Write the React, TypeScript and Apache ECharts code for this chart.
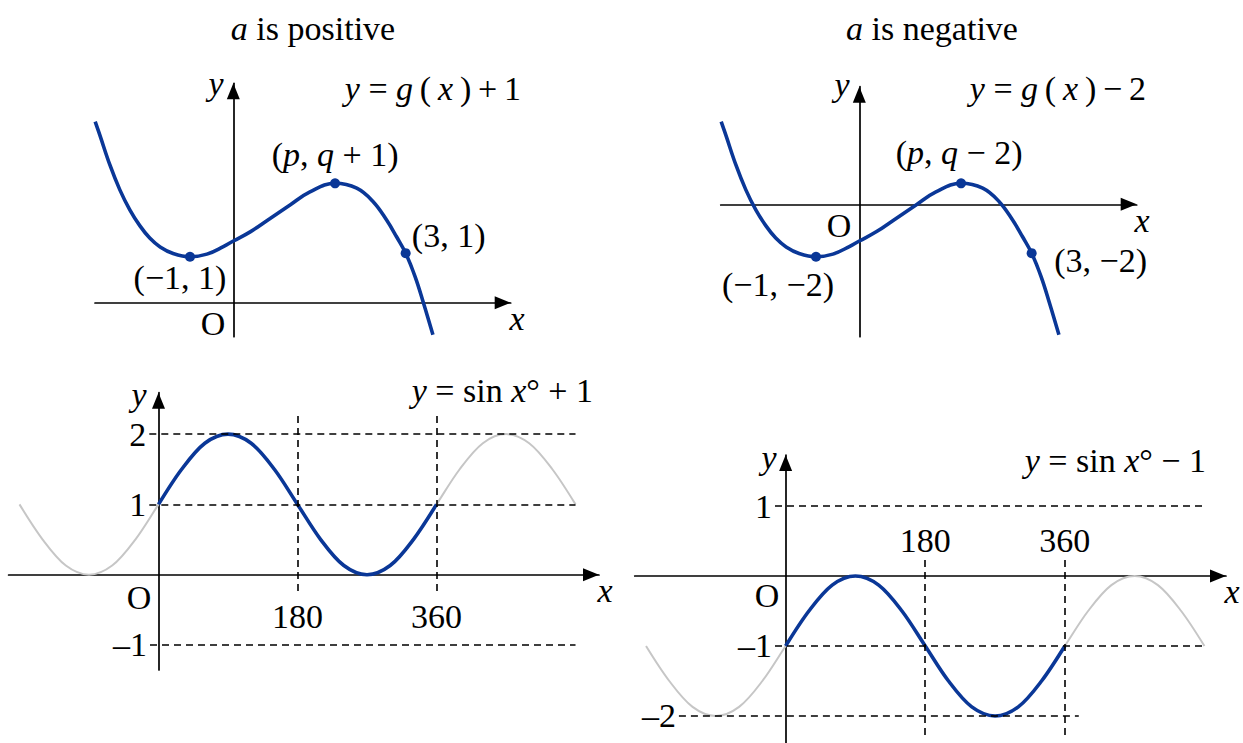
import React, { useEffect, useRef } from 'react';
import * as echarts from 'echarts';

const FONT = "'Liberation Serif', 'Times New Roman', serif";
const FS = 34;
const BLUE = '#0a3797';
const GREY = '#c6c6c6';
const BLACK = '#000';

// Underlying cubic g(x) (x in units of the marked minimum, y in picture units)
const gX = [-3.19, -3.08, -2.85, -2.62, -2.39, -2.16, -1.93, -1.69, -1.39, -1.0, -0.61, -0.23, 0, 0.39, 0.85, 1.31, 1.77, 2.35, 2.85, 3.23, 3.54, 3.77, 3.98, 4.2, 4.39, 4.61];
const gY = [4.52, 4.1, 3.2, 2.44, 1.83, 1.35, 0.97, 0.7, 0.5, 0.4, 0.48, 0.71, 0.88, 1.16, 1.57, 1.98, 2.38, 2.64, 2.49, 2.08, 1.52, 1.01, 0.51, -0.21, -1.0, -1.98];
const markedIdx = [9, 17, 22];
const shiftPositive = 1;
const shiftNegative = -2;
const labelsPositive = ['(−1, 1)', '({i|p}, {i|q} + 1)', '(3, 1)'];
const labelsNegative = ['(−1, −2)', '({i|p}, {i|q} − 2)', '(3, −2)'];
const labelOffsetsPositive = [[-10, 21], [0, -29], [43, -18]];
const labelOffsetsNegative = [[-38, 28], [-2, -31], [69, 7]];

// sin x° sampled every 30°
const sinX = [-180, -150, -120, -90, -60, -30, 0, 30, 60, 90, 120, 150, 180, 210, 240, 270, 300, 330, 360, 390, 420, 450, 480, 510, 540];
const sinVal = [0, -0.5, -0.87, -1, -0.87, -0.5, 0, 0.5, 0.87, 1, 0.87, 0.5, 0, -0.5, -0.87, -1, -0.87, -0.5, 0, 0.5, 0.87, 1, 0.87, 0.5, 0];
const blueFrom = 0;
const blueTo = 360;
const xTicks = [180, 360];

const richStyles = (size: number) => ({
  i: { fontFamily: FONT, fontSize: size, fontStyle: 'italic', color: BLACK },
});

function text(x: number, y: number, t: string, align = 'center', size = FS) {
  return {
    type: 'text',
    x,
    y,
    silent: true,
    style: {
      text: t,
      fontFamily: FONT,
      fontSize: size,
      fill: BLACK,
      align,
      verticalAlign: 'middle',
      rich: richStyles(size),
    },
  };
}

function axis(gridIndex: number, min: number, max: number) {
  return {
    type: 'value',
    gridIndex,
    min,
    max,
    axisLine: {
      show: true,
      onZero: true,
      symbol: ['none', 'triangle'],
      symbolSize: [13, 16],
      symbolOffset: [0, -8],
      lineStyle: { color: BLACK, width: 1.7 },
    },
    axisTick: { show: false },
    axisLabel: { show: false },
    splitLine: { show: false },
  };
}

function hLine(y: number, x1: number, x2: number, label: string) {
  return [
    { coord: [x1, y], label: { formatter: label, position: 'start', distance: 3 } },
    { coord: [x2, y] },
  ];
}
function vLine(x: number, yStart: number, yEnd: number, label: string, dist: number) {
  return [
    { coord: [x, yStart], label: { formatter: label, position: 'end', distance: dist } },
    { coord: [x, yEnd] },
  ];
}

const markLineBase = {
  silent: true,
  symbol: ['none', 'none'],
  animation: false,
  lineStyle: { type: [7, 5], color: BLACK, width: 1.6, opacity: 1 },
  label: { show: true, color: BLACK, fontFamily: FONT, fontSize: FS },
  emphasis: { disabled: true },
};

function cubicSeries(idx: number, shift: number, labels: string[], offsets: number[][]) {
  const pts = gX.map((x, i) => [x, gY[i] + shift]);
  return [
    {
      type: 'line',
      xAxisIndex: idx,
      yAxisIndex: idx,
      data: pts,
      smooth: 0.4,
      showSymbol: false,
      lineStyle: { color: BLUE, width: 3.6 },
      z: 3,
    },
    {
      type: 'scatter',
      xAxisIndex: idx,
      yAxisIndex: idx,
      symbolSize: 10,
      itemStyle: { color: BLUE, opacity: 1 },
      z: 4,
      data: markedIdx.map((k, j) => ({
        value: pts[k],
        label: { formatter: labels[j], offset: offsets[j] },
      })),
      label: {
        show: true,
        position: 'inside',
        align: 'center',
        verticalAlign: 'middle',
        color: BLACK,
        opacity: 1,
        fontFamily: FONT,
        fontSize: FS,
        rich: richStyles(FS),
      },
      emphasis: { disabled: true },
    },
  ];
}

function sineSeries(idx: number, shift: number, marks: any[]) {
  const all = sinX.map((x, i) => [x, sinVal[i] + shift]);
  const blue = all.filter((p) => p[0] >= blueFrom && p[0] <= blueTo);
  return [
    {
      type: 'line',
      xAxisIndex: idx,
      yAxisIndex: idx,
      data: all,
      smooth: 0.33,
      showSymbol: false,
      lineStyle: { color: GREY, width: 2 },
      z: 2,
      markLine: { ...markLineBase, data: marks },
    },
    {
      type: 'line',
      xAxisIndex: idx,
      yAxisIndex: idx,
      data: blue,
      smooth: 0.33,
      showSymbol: false,
      lineStyle: { color: BLUE, width: 3.6 },
      z: 3,
    },
  ];
}

export default function App() {
  const ref = useRef<HTMLDivElement>(null);
  useEffect(() => {
    if (!ref.current) return;
    const chart = echarts.init(ref.current, undefined, { renderer: 'svg' });
    const grids = [
      { left: 95, top: 83.3, width: 415.7, height: 253.4 },
      { left: 720.7, top: 86.7, width: 416, height: 250 },
      { left: 8.6, top: 392.7, width: 590.4, height: 277.3 },
      { left: 634.7, top: 455, width: 591.3, height: 288 },
    ].map((g) => ({ ...g, containLabel: false, outerBoundsMode: 'none', show: false }));

    const marks3 = [
      hLine(2, -11.9, 540, '2'),
      hLine(1, -11.9, 540, '1'),
      hLine(-1, -11, 540, '–1'),
      vLine(xTicks[0], 2.257, -0.242, '180', 8),
      vLine(xTicks[1], 2.257, -0.242, '360', 8),
    ];
    const marks4 = [
      hLine(1, -13.7, 540, '1'),
      hLine(-1, -13.7, 540, '–1'),
      hLine(-2, -137.6, 378, '–2'),
      vLine(xTicks[0], -2.27, 0.25, '180', 1),
      vLine(xTicks[1], -2.27, 0.25, '360', 1),
    ];

    const option: any = {
      animation: false,
      backgroundColor: '#fff',
      grid: grids,
      xAxis: [axis(0, -3.194, 6.406), axis(1, -3.201, 6.406), axis(2, -194.1, 570.4), axis(3, -194.6, 567.8)],
      yAxis: [axis(0, -1.037, 6.689), axis(1, -4.037, 3.585), axis(2, -1.356, 2.589), axis(3, -2.386, 1.729)],
      series: [
        ...cubicSeries(0, shiftPositive, labelsPositive, labelOffsetsPositive),
        ...cubicSeries(1, shiftNegative, labelsNegative, labelOffsetsNegative),
        ...sineSeries(2, 1, marks3),
        ...sineSeries(3, -1, marks4),
      ],
      graphic: [
        text(313, 28, '{i|a} is positive'),
        text(932, 28, '{i|a} is negative'),
        text(521, 88, '{i|y} = {i|g}\u2009(\u2009{i|x}\u2009)\u2009+\u20091', 'right'),
        text(1146, 88, '{i|y} = {i|g}\u2009(\u2009{i|x}\u2009)\u2009−\u20092', 'right'),
        text(593, 390, '{i|y} = sin {i|x}° + 1', 'right'),
        text(1206, 460, '{i|y} = sin {i|x}° − 1', 'right'),
        text(216, 83, '{i|y}'),
        text(517, 318, '{i|x}'),
        text(213, 323, 'O'),
        text(842, 84, '{i|y}'),
        text(1142, 220, '{i|x}'),
        text(839, 225, 'O'),
        text(139, 394, '{i|y}'),
        text(605, 590, '{i|x}'),
        text(139, 597, 'O'),
        text(769, 457, '{i|y}'),
        text(1232, 591, '{i|x}'),
        text(767, 595, 'O'),
      ],
    };
    chart.setOption(option);
    return () => chart.dispose();
  }, []);
  return <div ref={ref} style={{ position: 'absolute', left: 0, top: 0, width: 1243, height: 743 }} />;
}
